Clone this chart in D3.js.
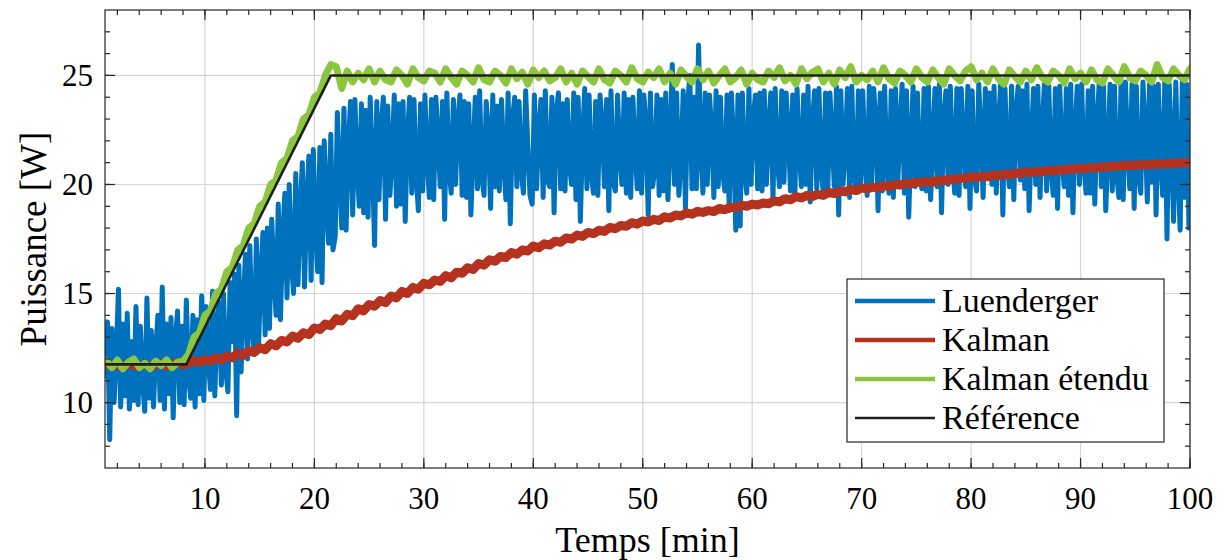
<!DOCTYPE html>
<html>
<head>
<meta charset="utf-8">
<script src="https://cdn.jsdelivr.net/npm/d3@7"></script>
<style>
  html, body { margin: 0; padding: 0; background: #fff; }
  svg { display: block; }
</style>
</head>
<body>
<svg id="chart" width="1224" height="560" font-family="'Liberation Serif', monospace"></svg>
<script>
// ---------------- data ----------------
const xTicks = [10, 20, 30, 40, 50, 60, 70, 80, 90, 100];
const yTicks = [10, 15, 20, 25];
const xDomain = [0.87, 100];
const yDomain = [7, 28];

const seriesNames = ["Luenderger", "Kalman", "Kalman étendu", "Référence"];

// Luenderger: sampled every 0.2 min starting at 0.9 min
const blueStart = 0.9, blueStep = 0.2;
const blueValues = [
  11.2, 13.7, 8.3, 13.4, 10.0, 12.2, 15.2, 9.8, 13.6, 10.3, 14.1, 9.7, 12.8, 10.1, 14.4,
  9.9, 13.5, 11.0, 9.6, 14.8, 10.2, 13.3, 9.8, 12.4, 14.0, 10.1, 15.3, 9.7, 13.6, 10.4,
  13.9, 9.3, 12.9, 14.2, 10.0, 13.5, 9.9, 14.7, 11.2, 10.2, 14.0, 9.8, 13.8, 10.4, 14.9,
  10.1, 14.4, 12.0, 10.6, 15.1, 10.3, 13.6, 14.6, 10.8, 15.0, 11.5, 10.5, 15.5, 12.8, 15.9,
  9.4, 16.3, 11.4, 14.5, 16.8, 12.0, 17.2, 13.6, 12.2, 17.5, 12.6, 15.8, 17.8, 13.1, 18.0,
  13.4, 18.4, 15.9, 14.0, 19.1, 13.8, 17.5, 19.6, 14.8, 20.0, 16.4, 15.0, 20.5, 15.4, 18.7,
  21.0, 15.3, 19.2, 21.3, 15.6, 21.6, 18.0, 16.0, 21.7, 15.5, 22.0, 19.4, 17.3, 22.3, 17.0,
  17.6, 23.3, 20.4, 18.0, 23.5, 17.9, 21.9, 23.8, 18.6, 23.9, 20.8, 19.0, 23.7, 18.7, 23.4,
  18.5, 24.0, 21.0, 17.2, 23.8, 19.3, 22.6, 24.0, 18.4, 23.6, 19.5, 21.4, 24.1, 19.0, 23.7,
  19.1, 23.8, 18.3, 22.2, 24.0, 19.6, 23.9, 20.4, 18.8, 23.7, 19.7, 24.1, 21.2, 19.4, 23.9,
  19.3, 24.0, 22.0, 19.9, 23.8, 18.4, 24.2, 20.8, 19.6, 23.9, 20.0, 22.9, 24.1, 19.5, 23.8,
  19.4, 23.7, 18.6, 21.5, 24.0, 19.8, 24.3, 20.3, 19.5, 23.8, 22.4, 18.9, 24.1, 19.9, 23.6,
  19.7, 23.9, 21.0, 19.3, 24.2, 18.2, 23.0, 24.0, 19.9, 23.8, 20.6, 19.6, 24.3, 21.8, 19.5,
  19.1, 24.1, 19.8, 22.5, 23.9, 19.4, 24.3, 20.2, 19.9, 24.0, 18.7, 23.3, 24.2, 19.8, 23.7,
  19.7, 23.9, 20.9, 20.0, 24.2, 19.3, 24.0, 18.3, 22.1, 24.4, 19.8, 24.1, 20.5, 19.6, 23.8,
  19.5, 24.1, 22.7, 19.9, 23.9, 18.8, 24.3, 20.1, 19.7, 24.1, 21.3, 20.0, 24.2, 19.6, 23.9,
  19.4, 24.0, 21.6, 19.8, 24.3, 19.6, 24.1, 22.8, 18.6, 24.2, 19.9, 20.7, 24.1, 19.5, 23.9,
  19.7, 24.2, 19.3, 22.0, 25.5, 20.0, 24.2, 19.5, 21.1, 24.3, 18.9, 23.6, 25.0, 19.8, 24.0,
  19.8, 26.4, 21.5, 19.6, 24.2, 20.0, 24.1, 22.4, 19.4, 24.3, 19.9, 24.0, 20.6, 19.7, 24.1,
  18.8, 24.2, 21.9, 17.9, 24.1, 18.1, 24.2, 20.7, 19.6, 24.4, 20.0, 23.1, 24.1, 19.8, 24.2,
  19.7, 24.3, 20.0, 22.6, 24.2, 19.3, 24.4, 21.0, 19.9, 24.3, 20.1, 24.2, 22.3, 19.7, 24.1,
  19.5, 24.4, 21.4, 19.9, 24.1, 20.0, 24.5, 19.2, 22.8, 24.3, 19.8, 24.4, 20.7, 19.6, 24.2,
  19.6, 24.2, 22.1, 19.9, 24.5, 18.6, 24.3, 20.0, 21.6, 24.4, 19.4, 24.5, 20.4, 19.8, 24.3,
  19.9, 24.3, 21.2, 19.5, 24.5, 20.0, 24.4, 22.9, 18.8, 24.2, 19.7, 24.5, 20.9, 19.6, 24.3,
  19.4, 24.4, 20.0, 22.5, 24.6, 19.6, 24.3, 18.5, 21.7, 24.5, 19.9, 24.2, 20.5, 19.8, 24.4,
  19.7, 24.5, 19.3, 22.0, 24.4, 19.9, 24.6, 18.7, 23.1, 24.3, 20.0, 24.5, 21.2, 19.6, 24.4,
  19.5, 24.4, 21.8, 19.9, 24.5, 18.9, 24.3, 20.3, 19.7, 24.6, 22.2, 19.4, 24.4, 20.6, 24.2,
  20.0, 24.5, 19.6, 22.7, 24.6, 18.6, 24.4, 21.0, 19.9, 24.5, 19.3, 23.3, 24.5, 20.2, 24.3,
  19.8, 24.6, 18.8, 21.9, 24.4, 20.0, 24.5, 19.4, 22.6, 24.6, 19.7, 24.5, 20.8, 19.5, 24.4,
  18.9, 24.5, 21.3, 19.9, 24.4, 19.5, 24.6, 18.7, 22.4, 24.5, 20.0, 24.6, 21.0, 19.6, 24.3,
  19.6, 24.5, 19.1, 22.8, 24.6, 19.9, 24.5, 18.8, 21.5, 24.6, 19.7, 24.5, 20.5, 19.4, 24.6,
  19.3, 24.7, 21.7, 19.8, 24.6, 18.9, 24.5, 20.4, 19.6, 24.7, 22.5, 19.2, 24.6, 20.1, 24.5,
  18.6, 24.6, 21.2, 19.5, 24.8, 17.5, 24.6, 22.0, 18.3, 24.7, 20.6, 17.9, 24.8, 19.4, 24.6,
  18.0
];

// Kalman: sampled every 0.5 min starting at 1 min
const redStart = 1, redStep = 0.5;
const redValues = [
  11.78, 11.65, 11.74, 11.62, 11.8, 11.7, 11.66, 11.76, 11.63, 11.72,
  11.8, 11.68, 11.75, 11.85, 11.72, 11.8, 11.93, 11.84, 11.97, 11.9,
  12.05, 11.95, 12.14, 12.05, 12.27, 12.16, 12.38, 12.3, 12.52, 12.42,
  12.7, 12.6, 12.85, 12.78, 13.05, 12.95, 13.2, 13.12, 13.42, 13.35,
  13.6, 13.52, 13.85, 13.74, 14.05, 13.98, 14.3, 14.2, 14.5, 14.42,
  14.68, 14.58, 14.88, 14.8, 15.1, 15.0, 15.28, 15.2, 15.47, 15.4,
  15.62, 15.55, 15.82, 15.72, 15.98, 15.93, 16.18, 16.1, 16.38, 16.3,
  16.55, 16.48, 16.7, 16.65, 16.88, 16.8, 17.0, 16.95, 17.18, 17.1,
  17.28, 17.22, 17.4, 17.35, 17.55, 17.5, 17.68, 17.62, 17.8, 17.75,
  17.9, 17.85, 18.03, 17.97, 18.12, 18.08, 18.25, 18.18, 18.33, 18.28,
  18.4, 18.35, 18.52, 18.46, 18.6, 18.56, 18.7, 18.64, 18.77, 18.72,
  18.8, 18.76, 18.9, 18.84, 18.96, 18.92, 19.05, 19.0, 19.1, 19.06,
  19.15, 19.12, 19.25, 19.2, 19.35, 19.3, 19.44, 19.38, 19.5, 19.45,
  19.55, 19.5, 19.64, 19.58, 19.7, 19.66, 19.78, 19.72, 19.84, 19.8,
  19.88, 19.84, 19.95, 19.9, 20.0, 19.97, 20.06, 20.02, 20.12, 20.08,
  20.14, 20.1, 20.2, 20.16, 20.25, 20.22, 20.3, 20.27, 20.36, 20.32,
  20.38, 20.35, 20.44, 20.4, 20.48, 20.45, 20.52, 20.5, 20.58, 20.54,
  20.6, 20.57, 20.65, 20.62, 20.68, 20.66, 20.72, 20.7, 20.76, 20.73,
  20.78, 20.76, 20.82, 20.8, 20.85, 20.83, 20.88, 20.86, 20.9, 20.88,
  20.92, 20.9, 20.95, 20.93, 20.97, 20.95, 21.0, 20.98, 21.02
];

// Kalman étendu: sampled every 0.5 min starting at 1 min
const greenStart = 1, greenStep = 0.5;
const greenValues = [
  11.9, 11.6, 11.95, 11.55, 11.85, 12.0, 11.6, 11.8, 11.55, 11.9,
  11.7, 11.95, 11.6, 11.85, 11.9, 12.2, 13.0, 13.2, 14.0, 14.2,
  15.0, 15.2, 16.0, 16.2, 17.0, 17.2, 18.0, 18.2, 19.0, 19.2,
  20.0, 20.2, 21.0, 21.2, 22.0, 22.2, 23.0, 23.2, 24.0, 24.2,
  25.0, 25.5, 25.4, 24.4, 25.2, 24.7, 25.1, 24.8, 25.3, 24.7,
  25.2, 24.8, 24.7, 25.25, 25.0, 24.6, 25.3, 24.9, 24.75, 25.2,
  25.1, 24.7, 25.3, 24.9, 24.6, 25.2, 25.0, 24.7, 25.35, 24.8,
  24.7, 25.2, 25.0, 24.65, 25.3, 24.85, 25.15, 24.6, 25.25, 24.9,
  25.2, 24.75, 24.9, 25.3, 24.7, 25.1, 24.6, 25.2, 24.95, 24.7,
  25.3, 24.8, 24.65, 25.2, 25.0, 24.7, 25.35, 24.85, 24.7, 25.15,
  24.9, 25.3, 24.7, 25.1, 24.6, 25.25, 24.95, 24.7, 25.3, 24.8,
  25.2, 24.65, 25.0, 25.3, 24.7, 24.9, 25.25, 24.6, 25.1, 24.8,
  24.7, 25.2, 24.9, 25.35, 24.75, 25.0, 24.6, 25.3, 24.85, 25.15,
  25.3, 24.7, 25.1, 24.6, 25.25, 24.9, 25.4, 24.7, 25.0, 24.8,
  25.2, 24.7, 25.35, 24.85, 24.65, 25.2, 25.0, 24.7, 25.3, 24.9,
  24.7, 25.25, 24.9, 24.6, 25.3, 25.0, 24.75, 25.2, 25.4, 24.8,
  25.1, 24.7, 25.3, 24.85, 24.6, 25.25, 24.95, 24.7, 25.2, 24.8,
  25.35, 24.9, 24.7, 25.2, 25.0, 24.65, 25.3, 24.85, 25.1, 24.7,
  25.25, 24.8, 24.65, 25.3, 25.0, 24.7, 25.4, 24.9, 24.75, 25.2,
  25.0, 24.7, 25.5, 24.9, 24.75, 25.3, 25.0, 24.8, 25.3
];

// Référence: breakpoints
const refTimes = [0.87, 8.3, 21.5, 100];
const refValues = [11.75, 11.75, 25, 25];

// ---------------- drawing ----------------
const plot = { left: 105, right: 1190, top: 10, bottom: 468 };
const colors = ["#0072bd", "#b5321f", "#8cc63f", "#1f1f1f"];
const widths = [5, 9, 7, 2.6];

const svg = d3.select("#chart");
const x = d3.scaleLinear().domain(xDomain).range([plot.left, plot.right]);
const y = d3.scaleLinear().domain(yDomain).range([plot.bottom, plot.top]);

function addText(parent, size) {
  return parent.append("text")
    .attr("font-family", `"Liberation Serif", monospace`)
    .attr("font-size", size);
}

// grid
const grid = svg.append("g");
grid.selectAll("line.gx").data(xTicks).join("line")
  .attr("x1", d => x(d)).attr("x2", d => x(d))
  .attr("y1", plot.top).attr("y2", plot.bottom)
  .attr("stroke", "#d5d5d5").attr("stroke-width", 1.2);
grid.selectAll("line.gy").data(yTicks).join("line")
  .attr("y1", d => y(d)).attr("y2", d => y(d))
  .attr("x1", plot.left).attr("x2", plot.right)
  .attr("stroke", "#d5d5d5").attr("stroke-width", 1.2);

svg.append("clipPath").attr("id", "clip").append("rect")
  .attr("x", plot.left).attr("y", plot.top)
  .attr("width", plot.right - plot.left).attr("height", plot.bottom - plot.top);

const toPts = (start, step, vals) => vals.map((v, i) => [start + i * step, v]);
const series = [
  toPts(blueStart, blueStep, blueValues),
  toPts(redStart, redStep, redValues),
  toPts(greenStart, greenStep, greenValues),
  refTimes.map((t, i) => [t, refValues[i]])
];

const line = d3.line().x(d => x(d[0])).y(d => y(d[1]));
const lines = svg.append("g").attr("clip-path", "url(#clip)");
series.forEach((pts, i) => {
  lines.append("path").datum(pts)
    .attr("d", line)
    .attr("fill", "none")
    .attr("stroke", colors[i])
    .attr("stroke-width", widths[i])
    .attr("stroke-linejoin", "round")
    .attr("stroke-linecap", "round");
});

// axes box with inward ticks
const axisColor = "#262626";
const ax = svg.append("g");
ax.append("rect").attr("x", plot.left).attr("y", plot.top)
  .attr("width", plot.right - plot.left).attr("height", plot.bottom - plot.top)
  .attr("fill", "none").attr("stroke", axisColor).attr("stroke-width", 1.2);

const xMinor = d3.range(2, 101, 2);
const yMinor = d3.range(8, 28, 1);
function xTickMarks(vals, len) {
  ax.selectAll(null).data(vals).join("line")
    .attr("x1", d => x(d)).attr("x2", d => x(d))
    .attr("y1", plot.bottom).attr("y2", plot.bottom - len)
    .attr("stroke", axisColor).attr("stroke-width", 1.2);
  ax.selectAll(null).data(vals).join("line")
    .attr("x1", d => x(d)).attr("x2", d => x(d))
    .attr("y1", plot.top).attr("y2", plot.top + len)
    .attr("stroke", axisColor).attr("stroke-width", 1.2);
}
function yTickMarks(vals, len) {
  ax.selectAll(null).data(vals).join("line")
    .attr("y1", d => y(d)).attr("y2", d => y(d))
    .attr("x1", plot.left).attr("x2", plot.left + len)
    .attr("stroke", axisColor).attr("stroke-width", 1.2);
  ax.selectAll(null).data(vals).join("line")
    .attr("y1", d => y(d)).attr("y2", d => y(d))
    .attr("x1", plot.right).attr("x2", plot.right - len)
    .attr("stroke", axisColor).attr("stroke-width", 1.2);
}
xTickMarks(xMinor, 5);
xTickMarks(xTicks, 10);
yTickMarks(yMinor, 5);
yTickMarks(yTicks, 10);

// tick labels
xTicks.forEach(t => {
  addText(svg, 31).attr("x", x(t)).attr("y", 509)
    .attr("text-anchor", "middle").text(t);
});
yTicks.forEach(t => {
  addText(svg, 31).attr("x", 93).attr("y", y(t) + 10.5)
    .attr("text-anchor", "end").text(t);
});

// axis labels
addText(svg, 36).attr("x", (plot.left + plot.right) / 2).attr("y", 552)
  .attr("text-anchor", "middle").text("Temps [min]");
addText(svg, 37)
  .attr("transform", `translate(46, ${(plot.top + plot.bottom) / 2}) rotate(-90)`)
  .attr("text-anchor", "middle").text("Puissance [W]");

// legend
svg.append("rect").attr("x", 847).attr("y", 279).attr("width", 317).attr("height", 163)
  .attr("fill", "#fff").attr("stroke", axisColor).attr("stroke-width", 1.2);
const legendY = [301, 340, 379, 418];
seriesNames.forEach((name, i) => {
  svg.append("line").attr("x1", 855).attr("x2", 935)
    .attr("y1", legendY[i]).attr("y2", legendY[i])
    .attr("stroke", colors[i]).attr("stroke-width", i === 3 ? 2.6 : 4.5);
  addText(svg, 34).attr("x", 942).attr("y", legendY[i] + 11).text(name);
});
</script>
</body>
</html>
